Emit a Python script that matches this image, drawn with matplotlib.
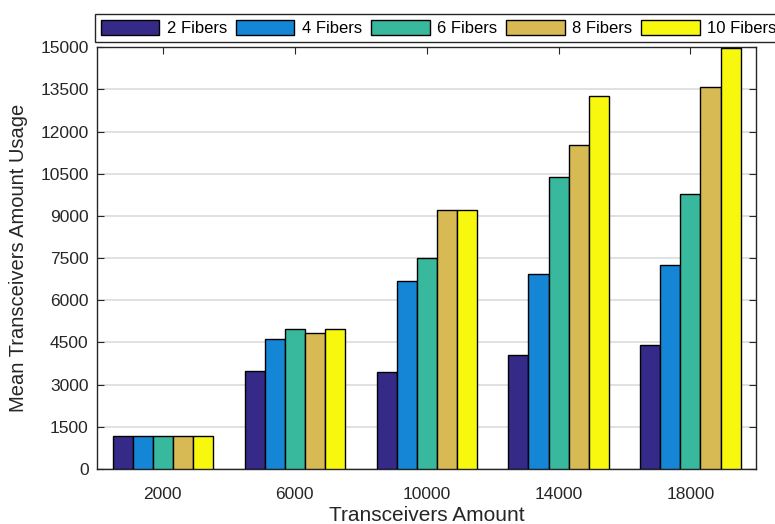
import matplotlib

matplotlib.use("Agg")
import matplotlib.pyplot as plt
import numpy as np

plt.rcParams["font.family"] = ["Liberation Sans", "DejaVu Sans"]

categories = ["2000", "6000", "10000", "14000", "18000"]
series_names = ["2 Fibers", "4 Fibers", "6 Fibers", "8 Fibers", "10 Fibers"]
fibers_2 = [1170, 3480, 3460, 4040, 4400]
fibers_4 = [1170, 4610, 6690, 6920, 7260]
fibers_6 = [1170, 4960, 7490, 10370, 9790]
fibers_8 = [1170, 4850, 9210, 11510, 13580]
fibers_10 = [1170, 4960, 9210, 13250, 14960]
colors = ["#352A87", "#1585D6", "#38B89D", "#D8BA55", "#F8F80F"]

fig = plt.figure(figsize=(7.75, 5.24), dpi=100)
ax = fig.add_axes([0.125, 0.105, 0.851, 0.805])

x = np.arange(1, len(categories) + 1)
width = 0.152
all_series = [fibers_2, fibers_4, fibers_6, fibers_8, fibers_10]
for i, (vals, name, c) in enumerate(zip(all_series, series_names, colors)):
    ax.bar(x + (i - 2) * width, vals, width, color=c, edgecolor="black",
           linewidth=1.0, label=name, zorder=3)

ax.set_xlim(0.5, 5.5)
ax.set_ylim(0, 15000)
ax.set_xticks(x)
ax.set_xticklabels(categories)
ax.set_yticks(np.arange(0, 15001, 1500))
ax.tick_params(direction="in", top=True, right=True, labelsize=12.5, length=5,
               color="#262626", labelcolor="#262626")
ax.tick_params(axis="x", pad=13)
ax.tick_params(axis="y", pad=6)
ax.yaxis.grid(True, color="#dcdcdc", linewidth=1.2, zorder=0)
ax.set_axisbelow(True)
for s in ax.spines.values():
    s.set_color("#262626")
    s.set_linewidth(1.0)

ax.set_xlabel("Transceivers Amount", fontsize=15, color="#262626", labelpad=3)
ax.set_ylabel("Mean Transceivers Amount Usage", fontsize=14.5, color="#262626", labelpad=9)

leg = fig.legend(loc="lower left", bbox_to_anchor=(95 / 775, 1 - 42 / 524), ncol=5,
                 fontsize=12, handlelength=3.5, handleheight=0.95, handletextpad=0.45,
                 columnspacing=0.55, borderpad=0.35, borderaxespad=0, fancybox=False,
                 framealpha=1, edgecolor="#262626")
leg.get_frame().set_linewidth(1.0)

fig.savefig("out.png", dpi=100)
